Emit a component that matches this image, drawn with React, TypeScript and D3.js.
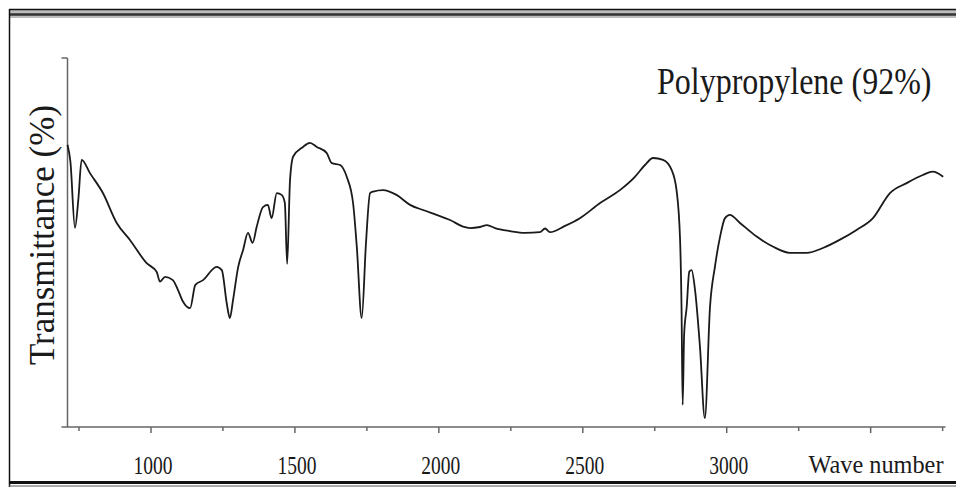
import React, { useEffect, useRef } from 'react';
import * as d3 from 'd3';

// FTIR spectrum (wave number, transmittance in arbitrary %)
const waveNumbers = [
  710, 720, 736, 748, 759, 788, 833, 881, 927, 985, 1020, 1031, 1049, 1076, 1094, 1111,
  1136, 1154, 1181, 1228, 1246, 1263, 1274, 1285, 1303, 1320, 1337, 1353, 1367, 1389,
  1406, 1419, 1437, 1454, 1465, 1473, 1483, 1494, 1528, 1552, 1576, 1610, 1628, 1657,
  1680, 1702, 1715, 1732, 1747, 1761, 1772, 1806, 1853, 1900, 1945, 1992, 2039, 2084,
  2108, 2143, 2167, 2195, 2247, 2299, 2351, 2369, 2386, 2438, 2490, 2560, 2629, 2681,
  2716, 2744, 2779, 2809, 2826, 2838, 2843, 2847, 2852, 2861, 2870, 2878, 2890, 2907,
  2924, 2942, 2959, 2977, 2994, 3011, 3046, 3104, 3160, 3219, 3278, 3334, 3392, 3451,
  3508, 3567, 3625, 3681, 3716, 3752,
];
const transmittance = [
  76.5, 72, 54.0, 62, 72.4, 68.8, 63.4, 55.3, 50.7, 44.4, 42.0, 39.4, 40.7, 39.8, 37.1, 34.0,
  32.2, 38.5, 39.8, 43.4, 42.5, 33.6, 29.5, 34.4, 43.4, 48.0, 52.6, 49.9, 54.2, 59.6,
  60.2, 56.6, 63.4, 62.9, 60.7, 44.2, 66.9, 73.3, 75.9, 77.0, 75.9, 74.3, 71.5, 71.0,
  67.8, 60.7, 48.8, 29.5, 50, 63.4, 63.8, 64.2, 62.9, 60.2, 58.8, 57.5, 56.1, 54.3,
  53.9, 54.2, 54.7, 53.9, 53.1, 52.6, 52.8, 53.8, 52.8, 54.5, 56.6, 60.7, 64.2, 67.8,
  71.0, 72.9, 72.4, 69.6, 64.0, 50.7, 32.6, 6.0, 25, 32.6, 42.1, 42.5, 37.1, 21.8,
  2.4, 32.6, 43.4, 51.6, 56.6, 57.5, 55.3, 51.6, 48.9, 47.2, 47.2, 48.5, 50.7, 53.4,
  56.6, 63.4, 66.1, 68.3, 69.2, 67.8,
];
const tickValues = [750, 1000, 1250, 1500, 1750, 2000, 2250, 2500, 2750, 3000, 3250, 3500, 3750];
const tickLabels = ['1000', '1500', '2000', '2500', '3000'];
const xTitle = 'Wave number';
const yTitle = 'Transmittance (%)';
const sampleLabel = 'Polypropylene (92%)';

const W = 956;
const H = 487;
const FONT = '"Liberation Serif", "Times New Roman", serif';

export default function App() {
  const svgRef = useRef<SVGSVGElement>(null);

  useEffect(() => {
    const svg = d3.select(svgRef.current);
    svg.selectAll('*').remove();

    const x = d3.scaleLinear().domain([710, 3760]).range([67.5, 945.5]);
    const y = d3.scaleLinear().domain([0, 100]).range([427, 58]);

    // outer frame
    const frame = svg.append('g');
    frame.append('rect').attr('x', 9).attr('y', 9).attr('width', W - 9).attr('height', 9).attr('fill', '#bdbdbd');
    frame.append('line').attr('x1', 9).attr('x2', W).attr('y1', 9.5).attr('y2', 9.5).attr('stroke', '#111').attr('stroke-width', 1.5);
    frame.append('line').attr('x1', 9).attr('x2', W).attr('y1', 14.5).attr('y2', 14.5).attr('stroke', '#333').attr('stroke-width', 2.5);
    frame.append('line').attr('x1', 9.5).attr('x2', 9.5).attr('y1', 9).attr('y2', H).attr('stroke', '#111').attr('stroke-width', 1.5);
    frame.append('line').attr('x1', 9).attr('x2', W).attr('y1', 482.5).attr('y2', 482.5).attr('stroke', '#111').attr('stroke-width', 3);
    frame.append('line').attr('x1', 9).attr('x2', W).attr('y1', 486).attr('y2', 486).attr('stroke', '#555').attr('stroke-width', 1);

    // axes
    const axes = svg.append('g').attr('stroke', '#666').attr('stroke-width', 1.5);
    axes.append('line').attr('x1', x(710)).attr('x2', x(710)).attr('y1', y(100)).attr('y2', y(0));
    axes.append('line').attr('x1', x(710) - 6).attr('x2', x(710)).attr('y1', y(100)).attr('y2', y(100));
    axes.append('line').attr('x1', x(710) - 6).attr('x2', 945.5).attr('y1', y(0)).attr('y2', y(0));
    axes.selectAll('line.tick')
      .data(tickValues)
      .join('line')
      .attr('class', 'tick')
      .attr('x1', d => x(d)).attr('x2', d => x(d))
      .attr('y1', y(0))
      .attr('y2', d => y(0) + (d % 500 === 0 ? 6 : 4));

    // spectrum
    const points = waveNumbers.map((w, i) => [w, transmittance[i]] as [number, number]);
    const line = d3.line<[number, number]>()
      .x(d => x(d[0]))
      .y(d => y(d[1]))
      .curve(d3.curveMonotoneX);
    svg.append('path')
      .datum(points)
      .attr('d', line)
      .attr('fill', 'none')
      .attr('stroke', '#1a1a1a')
      .attr('stroke-width', 1.8)
      .attr('stroke-linejoin', 'round');

    // text (the scan is a bit stretched vertically, so glyphs get a y-scale)
    const txt = svg.append('g').attr('font-family', FONT).attr('fill', '#1a1a1a');
    txt.selectAll('text.tl')
      .data(tickLabels)
      .join('text')
      .attr('class', 'tl')
      .attr('transform', d => `translate(${x(+d) + 2},474) scale(1,1.3)`)
      .attr('text-anchor', 'middle')
      .attr('font-size', 19.5)
      .text(d => d);
    txt.append('text')
      .attr('transform', 'translate(876,473) scale(1,1.05)')
      .attr('text-anchor', 'middle')
      .attr('font-size', 24.3)
      .text(xTitle);
    txt.append('text')
      .attr('transform', 'translate(53.5,235) rotate(-90)')
      .attr('text-anchor', 'middle')
      .attr('font-size', 35)
      .text(yTitle);
    txt.append('text')
      .attr('transform', 'translate(657,94) scale(1,1.2)')
      .attr('font-size', 32)
      .text(sampleLabel);
  }, []);

  return (
    <div style={{ position: 'absolute', left: 0, top: 0, width: W, height: H, background: '#fff' }}>
      <svg ref={svgRef} width={W} height={H} style={{ display: 'block' }}></svg>
    </div>
  );
}
